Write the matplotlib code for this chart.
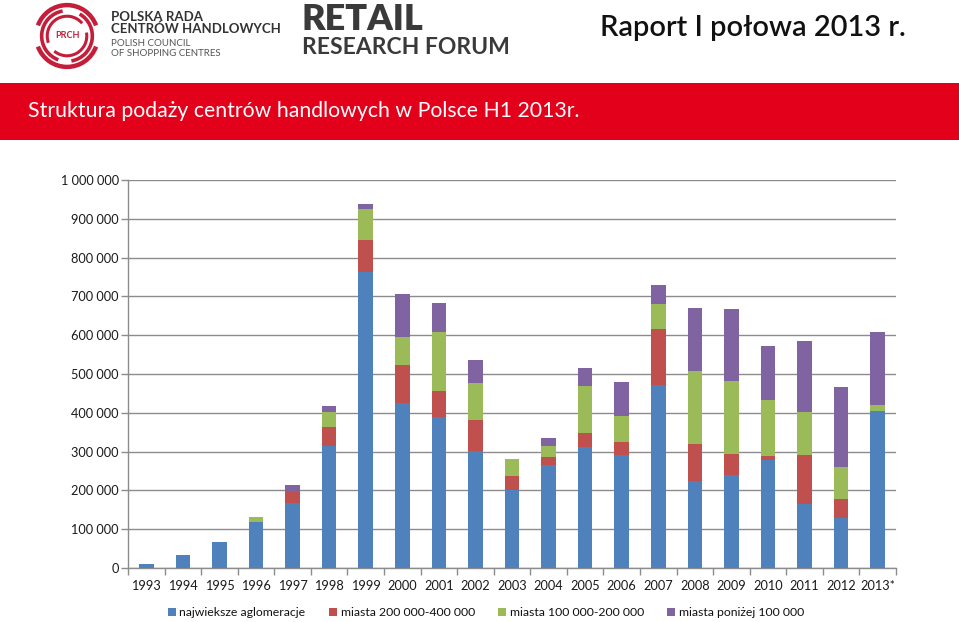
import matplotlib
matplotlib.use("Agg")
import matplotlib.pyplot as plt
from matplotlib.patches import Arc, Rectangle
from matplotlib.ticker import FuncFormatter, FixedLocator
import numpy as np

plt.rcParams['font.family'] = ['Lato', 'DejaVu Sans']

years = ['1993', '1994', '1995', '1996', '1997', '1998', '1999', '2000', '2001', '2002',
         '2003', '2004', '2005', '2006', '2007', '2008', '2009', '2010', '2011', '2012', '2013*']
largest = [11000, 33500, 68000, 119000, 167000, 315000, 764000, 424000, 388000, 302000,
           200000, 266000, 313000, 290000, 471000, 223000, 240000, 279000, 166000, 130000, 404000]
city200 = [0, 0, 0, 0, 30000, 49000, 82000, 98000, 69000, 79000,
           37000, 20000, 34000, 36000, 145000, 97000, 54000, 9000, 124000, 47000, 0]
city100 = [0, 0, 0, 12000, 0, 38000, 79000, 74000, 151000, 96000,
           45000, 29000, 121000, 65000, 65000, 187000, 187000, 146000, 111000, 83000, 17000]
below100 = [0, 0, 0, 0, 16000, 16000, 12000, 109000, 74000, 59000,
            0, 20000, 48000, 88000, 49000, 162000, 186000, 137000, 183000, 206000, 187000]

series_names = ['najwieksze aglomeracje', 'miasta 200 000-400 000',
                'miasta 100 000-200 000', 'miasta poniżej 100 000']
series = [largest, city200, city100, below100]
colors = ['#4F81BD', '#C0504D', '#9BBB59', '#8064A2']

W, H = 959, 622
fig = plt.figure(figsize=(W / 100, H / 100), dpi=100)

def fx(px):
    return px / W

def fy(py):
    return 1 - py / H

# Header red band
fig.patches.append(Rectangle((0, fy(140)), 1, 57 / H, transform=fig.transFigure,
                             facecolor='#E2001A', edgecolor='none', zorder=0))
fig.text(fx(28), fy(111), 'Struktura podaży centrów handlowych w Polsce H1 2013r.',
         color='white', fontsize=15.3, va='center', ha='left')
fig.text(fx(906), fy(28), 'Raport I połowa 2013 r.', color='#111111',
         fontsize=20.9, fontweight='semibold', va='center', ha='right')

# PRCH logo
lax = fig.add_axes([fx(33), fy(70), 68 / W, 68 / H])
lax.set_xlim(-1.1, 1.1)
lax.set_ylim(-1.1, 1.1)
lax.set_aspect('equal')
lax.axis('off')
red = '#C41E3A'
for r, t1, t2, lw in [(1.0, 20, 160, 3.2), (1.0, 200, 340, 3.2),
                      (0.82, 100, 250, 2.6), (0.82, 280, 420, 2.6),
                      (0.64, 40, 200, 2.2), (0.64, 230, 370, 2.2)]:
    lax.add_patch(Arc((0, 0), 2 * r, 2 * r, theta1=t1, theta2=t2, color=red, lw=lw))
lax.text(0, 0, 'PRCH', color=red, fontsize=6.5, fontweight='bold', ha='center', va='center')

fig.text(fx(111), fy(17), 'POLSKA RADA', fontsize=9.5, fontweight='bold', color='#333333', va='center')
fig.text(fx(111), fy(28.5), 'CENTRÓW HANDLOWYCH', fontsize=9.5, fontweight='bold', color='#333333', va='center')
fig.text(fx(111), fy(43), 'POLISH COUNCIL', fontsize=7, color='#555555', va='center')
fig.text(fx(111), fy(54), 'OF SHOPPING CENTRES', fontsize=7, color='#555555', va='center')
fig.text(fx(302), fy(20), 'RETAIL', fontsize=26, fontweight='heavy', color='#3a3a3a', va='center')
fig.text(fx(302), fy(48), 'RESEARCH FORUM', fontsize=16.5, fontweight='bold', color='#3a3a3a', va='center')

# Chart axes
ax = fig.add_axes([fx(128), fy(568), (896 - 128) / W, 388 / H])
x = np.arange(len(years))
bottom = np.zeros(len(years))
handles = []
for vals, c, name in zip(series, colors, series_names):
    b = ax.bar(x, vals, width=0.4, bottom=bottom, color=c, label=name, zorder=3)
    bottom += np.array(vals)
    handles.append(b)

ax.set_xlim(-0.5, len(years) - 0.5)
ax.set_ylim(0, 1000000)
ax.set_yticks(np.arange(0, 1000001, 100000))
ax.yaxis.set_major_formatter(FuncFormatter(lambda v, p: f'{int(v):,}'.replace(',', ' ')))
ax.grid(axis='y', color='#8c8c8c', linewidth=1, zorder=0)
ax.set_xticks(x)
ax.set_xticklabels(years)
ax.xaxis.set_minor_locator(FixedLocator(np.arange(-0.5, len(years), 1)))
ax.tick_params(axis='x', which='major', length=0, pad=9, labelsize=9.2, labelcolor='#1a1a1a')
ax.tick_params(axis='x', which='minor', length=5, color='#8c8c8c', width=1)
ax.tick_params(axis='y', which='major', length=5, color='#8c8c8c', width=1, pad=1.5,
               labelsize=9.2, labelcolor='#1a1a1a')
for s in ['top', 'right']:
    ax.spines[s].set_visible(False)
for s in ['left', 'bottom']:
    ax.spines[s].set_color('#8c8c8c')
    ax.spines[s].set_linewidth(1)

fig.legend(handles=handles, labels=series_names, loc='center', ncol=4,
           bbox_to_anchor=(fx(486), fy(613)), frameon=False, fontsize=8.85,
           handlelength=0.65, handleheight=0.65, handletextpad=0.3, columnspacing=1.9,
           borderpad=0, labelcolor='#111111')

fig.savefig('out.png', dpi=100)
